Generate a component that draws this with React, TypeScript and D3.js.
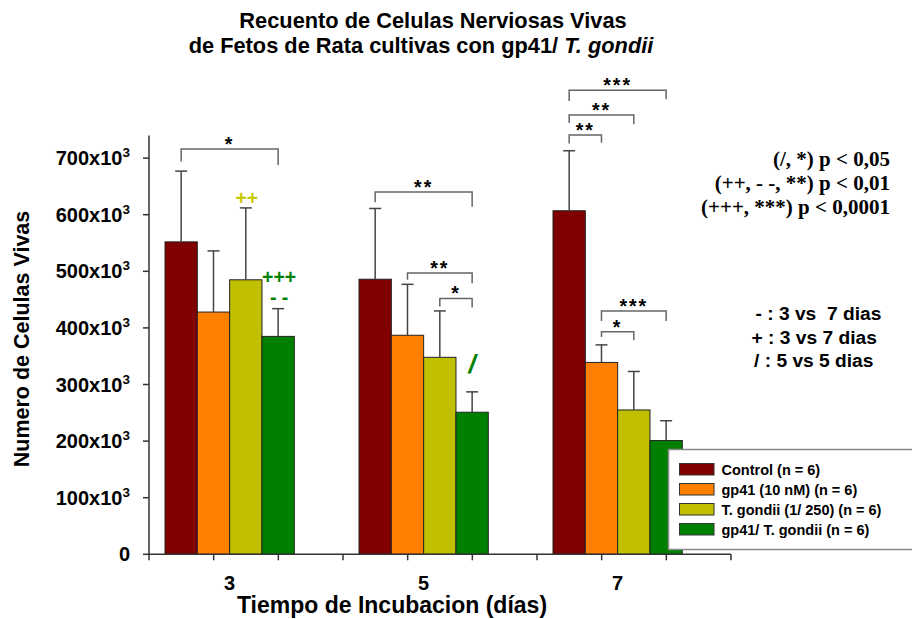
import React from "react";
import * as d3 from "d3";

// Incubation days (x groups)
const days = ["3", "5", "7"];

// Treatment series
const seriesNames = [
  "Control (n = 6)",
  "gp41 (10 nM) (n = 6)",
  "T. gondii (1/ 250) (n = 6)",
  "gp41/ T. gondii (n = 6)",
];
const seriesColors = ["#800000", "#FF8000", "#C0C000", "#008000"];

// Mean live cells (x10^3) per day for each series
const controlMeans = [552, 486, 607];
const gp41Means = [428, 387, 339];
const tgondiiMeans = [485, 348, 255];
const comboMeans = [385, 251, 201];

// Upper error (x10^3)
const controlErr = [125, 125, 106];
const gp41Err = [108, 90, 31];
const tgondiiErr = [127, 82, 68];
const comboErr = [49, 36, 35];

// Y tick values (x10^3)
const yTicks = [0, 100, 200, 300, 400, 500, 600, 700];

// Significance brackets: day, from series, to series, level (x10^3), label, leg drops (x10^3)
const brackets: [string, number, number, number, string, number, number][] = [
  ["3", 0, 3, 716, "*", 22, 28],
  ["5", 0, 3, 640, "**", 18, 26],
  ["5", 1, 3, 497, "**", 12, 18],
  ["5", 2, 3, 452, "*", 14, 16],
  ["7", 0, 3, 820, "***", 19, 16],
  ["7", 0, 2, 776, "**", 14, 16],
  ["7", 0, 1, 741, "**", 15, 14],
  ["7", 1, 3, 430, "***", 18, 18],
  ["7", 1, 2, 393, "*", 9, 15],
];

// Comparison markers across days: day, series, baseline level (x10^3), label, colour
const markers: [string, number, number, string, string][] = [
  ["3", 2, 618, "++", "#C8C800"],
  ["3", 3, 478, "+++", "#008000"],
  ["3", 3, 442, "- -", "#008000"],
  ["5", 3, 320, "/", "#008000"],
];

const pLegend = ["(/, *) p < 0,05", "(++, - -, **) p < 0,01", "(+++, ***) p < 0,0001"];
const compLegend = ["- : 3 vs  7 dias", "+ : 3 vs 7 dias", "/ : 5 vs 5 dias"];

const W = 912;
const H = 619;

export default function App() {
  const means = [controlMeans, gp41Means, tgondiiMeans, comboMeans];
  const errs = [controlErr, gp41Err, tgondiiErr, comboErr];

  const x0 = 149;
  const x1 = 731;
  const yBase = 554.3;

  const y = d3.scaleLinear().domain([0, 700]).range([yBase, 158.1]);
  const xGroup = d3.scaleBand<string>().domain(days).range([x0, x1]).paddingInner(0);
  const xSeries = d3
    .scaleBand<number>()
    .domain(d3.range(seriesNames.length))
    .range([16, 16 + 129.3]);
  const bw = xSeries.bandwidth();
  const cx = (day: string, s: number) => (xGroup(day) as number) + (xSeries(s) as number) + bw / 2;
  const groupCenter = (day: string) => (xGroup(day) as number) + 16 + 129.3 / 2;

  const minorTicks = d3.range(0, 10).map((k) => x0 + (k * xGroup.bandwidth()) / 3);

  const sans = "'Liberation Sans', Arial, sans-serif";
  const serif = "'Liberation Serif', 'Times New Roman', serif";
  const axisColor = "#333";
  const bracketColor = "#666";

  return (
    <svg
      width={W}
      height={H}
      style={{ position: "absolute", left: 0, top: 0, background: "#fff" }}
      fontFamily={sans}
    >
      <rect width={W} height={H} fill="#fff" />

      {/* Title */}
      <text x={433} y={28} textAnchor="middle" fontSize={21.8} fontWeight="bold">
        Recuento de Celulas Nerviosas Vivas
      </text>
      <text x={421} y={53} textAnchor="middle" fontSize={21.8} fontWeight="bold">
        de Fetos de Rata cultivas con gp41/ <tspan fontStyle="italic">T. gondii</tspan>
      </text>

      {/* Bars */}
      {days.map((day, di) =>
        seriesNames.map((_, si) => {
          const v = means[si][di];
          return (
            <rect
              key={`b-${day}-${si}`}
              x={(xGroup(day) as number) + (xSeries(si) as number)}
              y={y(v)}
              width={bw}
              height={yBase - y(v)}
              fill={seriesColors[si]}
              stroke="#222"
              strokeWidth={1}
            />
          );
        })
      )}

      {/* Error bars (upper) */}
      {days.map((day, di) =>
        seriesNames.map((_, si) => {
          const v = means[si][di];
          const top = v + errs[si][di];
          const c = cx(day, si);
          return (
            <g key={`e-${day}-${si}`} stroke="#444" strokeWidth={1.5}>
              <line x1={c} x2={c} y1={y(v)} y2={y(top)} />
              <line x1={c - 6} x2={c + 6} y1={y(top)} y2={y(top)} />
            </g>
          );
        })
      )}

      {/* Y axis */}
      <line x1={x0} x2={x0} y1={yBase} y2={y(740)} stroke={axisColor} strokeWidth={1.5} />
      {yTicks.map((t) => (
        <g key={`yt-${t}`}>
          <line x1={x0 - 6} x2={x0} y1={y(t)} y2={y(t)} stroke={axisColor} strokeWidth={1.5} />
          <text x={x0 - 19} y={y(t) + 7} textAnchor="end" fontSize={20} fontWeight="bold">
            {t === 0 ? (
              "0"
            ) : (
              <>
                {`${t}x10`}
                <tspan fontSize={13.5} dy={-8}>
                  3
                </tspan>
              </>
            )}
          </text>
        </g>
      ))}

      {/* X axis */}
      <line x1={x0} x2={x1} y1={yBase} y2={yBase} stroke={axisColor} strokeWidth={1.5} />
      {minorTicks.map((t, i) => (
        <line key={`xt-${i}`} x1={t} x2={t} y1={yBase} y2={yBase + 6} stroke={axisColor} strokeWidth={1.5} />
      ))}
      {days.map((day) => (
        <text key={`xl-${day}`} x={groupCenter(day)} y={590} textAnchor="middle" fontSize={20} fontWeight="bold">
          {day}
        </text>
      ))}

      {/* Axis titles */}
      <text x={392} y={613} textAnchor="middle" fontSize={23} fontWeight="bold">
        Tiempo de Incubacion (días)
      </text>
      <text
        transform={`translate(29, 339) rotate(-90)`}
        textAnchor="middle"
        fontSize={21.5}
        fontWeight="bold"
      >
        Numero de Celulas Vivas
      </text>

      {/* Significance brackets */}
      {brackets.map(([day, a, b, lvl, label, dl, dr], i) => {
        const xa = cx(day, a);
        const xb = cx(day, b);
        const yl = y(lvl);
        return (
          <g key={`br-${i}`}>
            <path
              d={`M${xa},${y(lvl - dl)}V${yl}H${xb}V${y(lvl - dr)}`}
              fill="none"
              stroke={bracketColor}
              strokeWidth={1.5}
            />
            <text
              x={(xa + xb) / 2}
              y={yl + 2}
              textAnchor="middle"
              fontSize={19.5}
              fontWeight="bold"
              letterSpacing={2}
            >
              {label}
            </text>
          </g>
        );
      })}

      {/* Day comparison markers */}
      {markers.map(([day, s, lvl, label, color], i) => (
        <text
          key={`mk-${i}`}
          x={cx(day, s) + (label === "/" ? 0 : 1)}
          y={y(lvl)}
          textAnchor="middle"
          fontSize={label === "/" ? 26 : 19.5}
          fontWeight="bold"
          fontStyle={label === "/" ? "italic" : "normal"}
          fill={color}
        >
          {label}
        </text>
      ))}

      {/* p-value notes */}
      {pLegend.map((t, i) => (
        <text
          key={`pl-${i}`}
          x={890}
          y={166 + i * 24}
          textAnchor="end"
          fontFamily={serif}
          fontSize={21}
          fontWeight="bold"
        >
          {t}
        </text>
      ))}

      {/* Comparison notes */}
      {compLegend.map((t, i) => (
        <text
          key={`cl-${i}`}
          x={[755.5, 751.5, 754][i]}
          y={320 + i * 23.5}
          fontSize={19.2}
          fontWeight="bold"
          style={{ whiteSpace: "pre" }}
        >
          {t}
        </text>
      ))}

      {/* Series legend */}
      <g>
        <rect x={668.5} y={449.5} width={260} height={100} fill="#fff" stroke="#888" strokeWidth={1.5} />
        {seriesNames.map((name, i) => (
          <g key={`lg-${i}`}>
            <rect
              x={679.5}
              y={463.5 + i * 20}
              width={34.5}
              height={11.5}
              fill={seriesColors[i]}
              stroke="#333"
              strokeWidth={1}
            />
            <text x={721.5} y={474.5 + i * 20} fontSize={14.5} fontWeight="bold">
              {name}
            </text>
          </g>
        ))}
      </g>
    </svg>
  );
}
